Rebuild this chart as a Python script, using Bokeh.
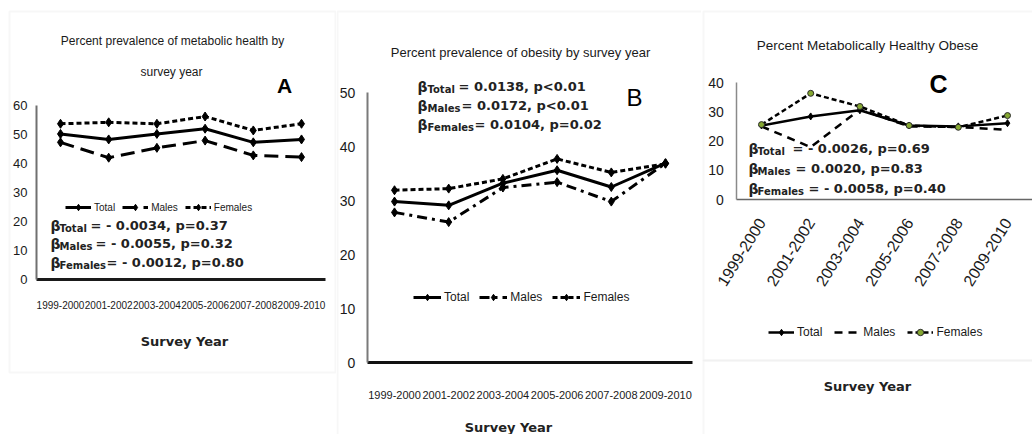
import math
from bokeh.plotting import figure
from bokeh.layouts import row
from bokeh.models import Range1d, Label, Legend, LegendItem, BoxAnnotation, FixedTicker
from bokeh.embed import file_html
from bokeh.resources import INLINE

# ---------------- data ----------------
years = ["1999-2000", "2001-2002", "2003-2004", "2005-2006", "2007-2008", "2009-2010"]

# Panel A: percent prevalence of metabolic health
a_total = [50.2, 48.3, 50.2, 52.0, 47.3, 48.3]
a_males = [47.3, 42.0, 45.4, 47.9, 42.8, 42.2]
a_females = [53.7, 54.2, 53.7, 56.2, 51.4, 53.7]

# Panel B: percent prevalence of obesity
b_total = [29.8, 29.1, 33.2, 35.6, 32.5, 36.9]
b_males = [27.8, 26.0, 32.4, 33.4, 29.8, 36.9]
b_females = [31.9, 32.2, 34.0, 37.7, 35.2, 36.8]

# Panel C: percent metabolically healthy obese
c_total = [25.3, 28.4, 30.5, 25.3, 25.0, 26.1]
c_males = [25.0, 17.9, 30.8, 25.0, 24.8, 23.8]
c_females = [25.6, 36.3, 31.8, 25.3, 24.7, 28.7]

a_yticks = [0, 10, 20, 30, 40, 50, 60]
b_yticks = [0, 10, 20, 30, 40, 50]
c_yticks = [0, 10, 20, 30, 40]

series_names = ["Total", "Males", "Females"]

a_title = ["Percent prevalence of metabolic health by", "survey year"]
b_title = "Percent prevalence of obesity by survey year"
c_title = "Percent Metabolically Healthy Obese"
x_title = "Survey Year"

a_stats = ["= - 0.0034, p=0.37", "= - 0.0055, p=0.32", "= - 0.0012, p=0.80"]
b_stats = ["= 0.0138, p<0.01", "= 0.0172, p<0.01", "= 0.0104, p=0.02"]
c_stats = ["= - 0.0026, p=0.69", "= 0.0020, p=0.83", "= - 0.0058, p=0.40"]

# ---------------- styling / layout ----------------
NARROW = "Liberation Sans"
BOLD = "DejaVu Sans"
SANS = "Liberation Sans"
H = 434
TOP, BOT = 0, H          # page rows of the canvas edges
xs = list(range(len(years)))


class Panel:
    def __init__(self, x0, width, c0, step, y0_px, ytop_px, ymax, yticks):
        self.x0 = x0
        k = (y0_px - ytop_px) / ymax
        y_start = -(BOT - y0_px) / k
        y_end = (y0_px - TOP) / k
        x_start = -(c0 - x0) / step
        x_end = (x0 + width - c0) / step
        p = figure(width=width, height=H, x_range=Range1d(x_start, x_end),
                   y_range=Range1d(y_start, y_end), output_backend="svg",
                   toolbar_location=None, min_border=0, min_border_left=0,
                   min_border_right=0, min_border_top=0, min_border_bottom=0,
                   background_fill_color="white", border_fill_color="white")
        p.outline_line_color = None
        p.xgrid.visible = False
        p.ygrid.visible = False
        xa, ya = p.xaxis[0], p.yaxis[0]
        xa.fixed_location = 0
        ya.fixed_location = -0.5
        xa.bounds = (-0.5, len(years) - 0.5)
        ya.bounds = (0, ymax)
        xa.ticker = FixedTicker(ticks=xs)
        xa.major_label_overrides = {i: y for i, y in zip(xs, years)}
        ya.ticker = FixedTicker(ticks=yticks)
        for ax in (xa, ya):
            ax.major_tick_line_color = None
            ax.minor_tick_line_color = None
            ax.major_tick_out = 0
            ax.major_tick_in = 0
            ax.minor_tick_out = 0
            ax.minor_tick_in = 0
            ax.major_label_text_color = "#1a1a1a"
            ax.major_label_text_font = NARROW
        self.p = p

    def text(self, px, py, text, font, size, style="normal", align="left", color="#1a1a1a"):
        self.p.add_layout(Label(x=px - self.x0, y=BOT - py, x_units="screen", y_units="screen",
                                text=text, text_font=font, text_font_size=f"{size}px",
                                text_font_style=style, text_align=align, text_baseline="middle",
                                text_color=color))

    def box(self, left, right, top, bottom):
        self.p.add_layout(BoxAnnotation(left=left - self.x0, right=right - self.x0,
                                        top=BOT - top, bottom=BOT - bottom,
                                        left_units="screen", right_units="screen",
                                        top_units="screen", bottom_units="screen",
                                        fill_color=None, line_color="#e6e6e6", line_width=2,
                                        level="underlay"))

    def stats(self, rows, stats):
        for (py, bx, sx, mx), name, st in zip(rows, series_names, stats):
            self.text(bx, py, "β", BOLD, 14, "bold", color="#222222")
            self.text(sx, py + 3, name, BOLD, 10, "bold", color="#222222")
            self.text(mx, py, st, BOLD, 13, "bold", color="#222222")

    def legend(self, items, px, py, size, glyph_w, spacing):
        h = 16
        self.p.add_layout(Legend(items=items, location=(px - self.x0, BOT - (py + h / 2)),
                                 orientation="horizontal", padding=0, margin=0,
                                 spacing=spacing, glyph_width=glyph_w, glyph_height=h,
                                 label_height=h, label_standoff=3, border_line_color=None,
                                 background_fill_alpha=0, label_text_font=NARROW,
                                 label_text_font_size=f"{size}px", label_text_color="#1a1a1a"))


# ---------------- Panel A ----------------
A = Panel(0, 336, 60, 48.2, 279, 105, 60, a_yticks)
pa = A.p
pa.yaxis.axis_line_color = "#707070"
pa.yaxis.axis_line_width = 2
pa.xaxis.axis_line_color = "#1a1a1a"
pa.xaxis.axis_line_width = 3
pa.yaxis.major_label_text_font_size = "13px"
pa.yaxis.major_label_standoff = 9
pa.xaxis.major_label_text_font_size = "10px"
pa.xaxis.major_label_standoff = 21

A.box(9, 335, 11, 372)

la_t = pa.line(xs, a_total, line_color="black", line_width=3)
sa_t = pa.scatter(xs, a_total, marker="diamond", size=9, color="black")
la_m = pa.line(xs, a_males, line_color="black", line_width=3, line_dash="14 7")
sa_m = pa.scatter(xs, a_males, marker="diamond", size=9, color="black")
la_f = pa.line(xs, a_females, line_color="black", line_width=3, line_dash="5 3")
sa_f = pa.scatter(xs, a_females, marker="diamond", size=9, color="black")

A.legend([
    LegendItem(label=series_names[0], renderers=[la_t, sa_t]),
    LegendItem(label=series_names[1], renderers=[la_m, sa_m]),
    LegendItem(label=series_names[2], renderers=[la_f, sa_f]),
], 65, 207, 10, 26, 7)

A.text(172, 40, a_title[0], NARROW, 12, align="center")
A.text(171, 71, a_title[1], NARROW, 12, align="center")
A.text(284, 85, "A", SANS, 21, "bold", align="center", color="black")
A.stats([(225, 50, 59, 90), (243, 50, 59, 95), (262, 50, 59, 106)], a_stats)
A.text(184, 341, x_title, BOLD, 13, "bold", align="center", color="#222222")

# ---------------- Panel B ----------------
B = Panel(336, 365, 394, 54.2, 362, 92, 50, b_yticks)
pb = B.p
pb.yaxis.axis_line_color = "#7a7a7a"
pb.yaxis.axis_line_width = 2
pb.xaxis.axis_line_color = "#111111"
pb.xaxis.axis_line_width = 3
pb.yaxis.major_label_text_font_size = "14px"
pb.yaxis.major_label_standoff = 12
pb.xaxis.major_label_text_font_size = "11px"
pb.xaxis.major_label_standoff = 28

B.box(337, 702, 11, 460)

lb_t = pb.line(xs, b_total, line_color="black", line_width=3)
sb_t = pb.scatter(xs, b_total, marker="diamond", size=9, color="black")
lb_m = pb.line(xs, b_males, line_color="black", line_width=3, line_dash="10 5 3 5")
sb_m = pb.scatter(xs, b_males, marker="diamond", size=9, color="black")
lb_f = pb.line(xs, b_females, line_color="black", line_width=3, line_dash="5 3")
sb_f = pb.scatter(xs, b_females, marker="diamond", size=9, color="black")

B.legend([
    LegendItem(label=series_names[0], renderers=[lb_t, sb_t]),
    LegendItem(label=series_names[1], renderers=[lb_m, sb_m]),
    LegendItem(label=series_names[2], renderers=[lb_f, sb_f]),
], 413, 297, 12, 28, 10)

B.text(520, 52, b_title, NARROW, 13, align="center")
B.text(634, 97, "B", SANS, 24, align="center", color="black")
B.stats([(86, 417, 427, 458), (105, 417, 427, 461), (124, 417, 427, 474)], b_stats)
B.text(508, 427, x_title, BOLD, 13, "bold", align="center", color="#222222")

# ---------------- Panel C ----------------
C = Panel(701, 331, 761, 49.2, 199, 82, 40, c_yticks)
pc = C.p
pc.xaxis.major_label_orientation = math.radians(58)
pc.yaxis.axis_line_color = "#8a8a8a"
pc.yaxis.axis_line_width = 1.5
pc.xaxis.axis_line_color = "#666666"
pc.xaxis.axis_line_width = 1.5
pc.yaxis.major_label_text_font_size = "14px"
pc.yaxis.major_label_standoff = 13
pc.xaxis.major_label_text_font_size = "16px"
pc.xaxis.major_label_standoff = 20

C.box(703, 1045, 11, 360)
C.box(703, 1045, 360, 460)

lc_t = pc.line(xs, c_total, line_color="black", line_width=2.5)
sc_t = pc.scatter(xs, c_total, marker="diamond", size=7, color="black")
lc_m = pc.line(xs, c_males, line_color="black", line_width=2.5, line_dash="8 6")
lc_f = pc.line(xs, c_females, line_color="black", line_width=2.5, line_dash="5 3")
sc_f = pc.scatter(xs, c_females, marker="circle", size=6, fill_color="#86a832",
                  line_color="#2a2a2a", line_width=1)

C.legend([
    LegendItem(label=series_names[0], renderers=[lc_t, sc_t]),
    LegendItem(label=series_names[1], renderers=[lc_m]),
    LegendItem(label=series_names[2], renderers=[lc_f, sc_f]),
], 768, 332, 12, 26, 12)

C.text(867, 45, c_title, NARROW, 13.5, align="center")
C.text(938, 83, "C", SANS, 25, "bold", align="center", color="black")
C.stats([(148, 748, 757, 792), (168, 748, 757, 795), (188, 748, 757, 808)], c_stats)
C.text(867, 386, x_title, BOLD, 13, "bold", align="center", color="#222222")

layout = row(pa, pb, pc)
open("out.html", "w").write(file_html(layout, INLINE))
